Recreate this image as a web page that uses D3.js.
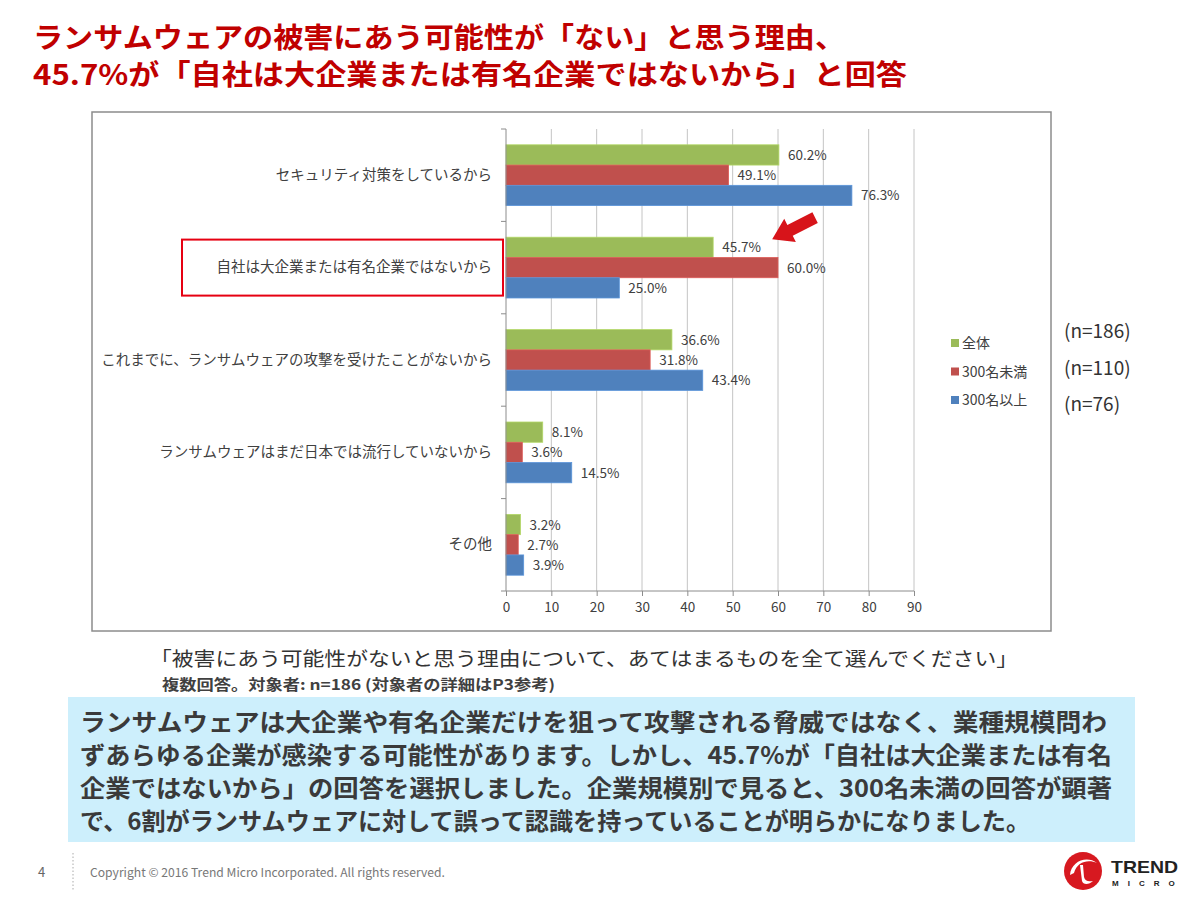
<!DOCTYPE html>
<html><head><meta charset="utf-8">
<script src="https://cdn.jsdelivr.net/npm/d3@7"></script>
<style>
html,body{margin:0;padding:0;background:#fff;}
svg{display:block;font-family:"Noto Sans CJK JP","Noto Sans",sans-serif;}
</style></head>
<body>
<svg id="c" width="1200" height="906"></svg>
<script>
const categories = [
  "セキュリティ対策をしているから",
  "自社は大企業または有名企業ではないから",
  "これまでに、ランサムウェアの攻撃を受けたことがないから",
  "ランサムウェアはまだ日本では流行していないから",
  "その他"
];
const seriesNames = ["全体", "300名未満", "300名以上"];
const seriesN = ["(n=186)", "(n=110)", "(n=76)"];
const seriesColors = ["#9BBB59", "#C0504D", "#4F81BD"];
const valuesAll   = [60.2, 45.7, 36.6, 8.1, 3.2];
const valuesSmall = [49.1, 60.0, 31.8, 3.6, 2.7];
const valuesLarge = [76.3, 25.0, 43.4, 14.5, 3.9];
const xTicks = [0, 10, 20, 30, 40, 50, 60, 70, 80, 90];
const titleLines = [
  "ランサムウェアの被害にあう可能性が「ない」と思う理由、",
  "45.7%が「自社は大企業または有名企業ではないから」と回答"
];
const questionText = "「被害にあう可能性がないと思う理由について、あてはまるものを全て選んでください」";
const noteText = "複数回答。対象者: n=186  (対象者の詳細はP3参考)";
const bodyLines = [
  "ランサムウェアは大企業や有名企業だけを狙って攻撃される脅威ではなく、業種規模問わ",
  "ずあらゆる企業が感染する可能性があります。しかし、45.7%が「自社は大企業または有名",
  "企業ではないから」の回答を選択しました。企業規模別で見ると、300名未満の回答が顕著",
  "で、6割がランサムウェアに対して誤って認識を持っていることが明らかになりました。"
];
const pageNo = "4";
const copyright = "Copyright © 2016 Trend Micro Incorporated. All rights reserved.";

const seriesValues = [valuesAll, valuesSmall, valuesLarge];
const data = categories.map((c, i) => ({cat: c, vals: seriesValues.map((s, j) => ({key: seriesNames[j], v: s[i], color: seriesColors[j]}))}));

const svg = d3.select("#c");
const txt = "#404040";

// Title
const titleLens = [812, 874];
titleLines.forEach((t, i) => {
  svg.append("text").attr("x", 33).attr("y", 48 + i * 37)
    .attr("font-size", 28).attr("font-weight", "bold").attr("fill", "#C00000")
    .attr("textLength", titleLens[i]).attr("lengthAdjust", "spacingAndGlyphs")
    .text(t);
});

// Chart frame
svg.append("rect").attr("x", 92).attr("y", 112).attr("width", 959).attr("height", 519)
  .attr("fill", "#fff").attr("stroke", "#8c8c8c").attr("stroke-width", 1.5);

const x = d3.scaleLinear().domain([0, 90]).range([506, 914]);
const y = d3.scaleBand().domain(categories).range([129, 591]).padding(0);
const yi = d3.scaleBand().domain(seriesNames).range([0, y.bandwidth()]).paddingInner(0).paddingOuter(0.78);

// gridlines
svg.append("g").selectAll("line").data(xTicks.slice(1)).join("line")
  .attr("x1", d => x(d)).attr("x2", d => x(d)).attr("y1", 129).attr("y2", 591)
  .attr("stroke", "#c4c4c4").attr("stroke-width", 1);

// bars
const g = svg.append("g");
const cg = g.selectAll("g").data(data).join("g").attr("transform", d => `translate(0,${y(d.cat)})`);
cg.selectAll("rect").data(d => d.vals).join("rect")
  .attr("x", x(0)).attr("y", d => yi(d.key)).attr("width", d => x(d.v) - x(0)).attr("height", yi.bandwidth())
  .attr("fill", d => d.color).attr("stroke", d => d3.color(d.color).brighter(0.4)).attr("stroke-width", 0.8);
cg.selectAll("text").data(d => d.vals).join("text")
  .attr("x", d => x(d.v) + 9).attr("y", d => yi(d.key) + yi.bandwidth() / 2 + 5)
  .attr("font-size", 13.5).attr("fill", txt).text(d => d.v.toFixed(1) + "%");

// axes
const xAxis = svg.append("g").attr("transform", "translate(0,591)")
  .call(d3.axisBottom(x).tickValues(xTicks).tickSize(5).tickPadding(6).tickFormat(d3.format("d")));
xAxis.select(".domain").attr("stroke", "#8c8c8c").attr("d", `M${x(0)},0H${x(90)}`);
xAxis.selectAll(".tick line").attr("stroke", "#8c8c8c");
xAxis.selectAll("text").attr("font-size", 13.5).attr("fill", txt).attr("font-family", "'Noto Sans CJK JP',sans-serif");

const yAxis = svg.append("g").attr("transform", `translate(${x(0)},0)`)
  .call(d3.axisLeft(y).tickSize(0).tickPadding(14));
yAxis.select(".domain").attr("stroke", "#8c8c8c").attr("d", "M0,129V591");
yAxis.selectAll("text").attr("font-size", 14.5).attr("fill", txt).attr("font-family", "'Noto Sans CJK JP',sans-serif");
// category boundary ticks
svg.append("g").selectAll("line").data(categories).join("line")
  .attr("x1", x(0) - 5).attr("x2", x(0)).attr("y1", d => y(d)).attr("y2", d => y(d))
  .attr("stroke", "#8c8c8c");
svg.append("line").attr("x1", x(0) - 5).attr("x2", x(0)).attr("y1", 591).attr("y2", 591).attr("stroke", "#8c8c8c");

// highlight box around second category label
const hy = y(categories[1]) + y.bandwidth() / 2;
svg.append("rect").attr("x", 182).attr("y", hy - 28).attr("width", 321).attr("height", 56)
  .attr("fill", "none").attr("stroke", "#E60012").attr("stroke-width", 2);

// red arrow pointing at 45.7%
const tipX = x(valuesAll[1]) + 59, tipY = y(categories[1]) + yi(seriesNames[0]) + 2;
const ang = Math.atan2(21, -42) * 180 / Math.PI;
svg.append("path")
  .attr("d", "M0,0 L20,-13 L20,-6 L48,-6 L48,6 L20,6 L20,13 Z")
  .attr("transform", `translate(${tipX},${tipY}) rotate(${ang + 180})`)
  .attr("fill", "#D7141A");

// legend
const lg = svg.append("g");
seriesNames.forEach((s, i) => {
  const ly = 343 + i * 28.5;
  lg.append("rect").attr("x", 951).attr("y", ly - 4).attr("width", 8).attr("height", 8).attr("fill", seriesColors[i]);
  lg.append("text").attr("x", 962).attr("y", ly + 5).attr("font-size", 14).attr("fill", txt).text(s);
  lg.append("text").attr("x", 1064).attr("y", 338 + i * 36.5).attr("font-size", 19).attr("fill", "#333").text(seriesN[i]);
});

// question & note
svg.append("text").attr("x", 150).attr("y", 666).attr("font-size", 19.5).attr("fill", "#333")
  .attr("textLength", 868).attr("lengthAdjust", "spacingAndGlyphs").text(questionText);
svg.append("text").attr("x", 162).attr("y", 690).attr("font-size", 14.5).attr("font-weight", "bold").attr("fill", "#404040")
  .attr("textLength", 393).attr("lengthAdjust", "spacingAndGlyphs").text(noteText);

// blue message box
svg.append("rect").attr("x", 68).attr("y", 697).attr("width", 1067).attr("height", 145).attr("fill", "#CDEFFC");
const bodyLens = [1027, 1032, 1032, 950];
bodyLines.forEach((t, i) => {
  svg.append("text").attr("x", 80).attr("y", 731 + i * 33).attr("font-size", 24).attr("font-weight", "bold")
    .attr("fill", "#3a3a3a").attr("textLength", bodyLens[i]).attr("lengthAdjust", "spacingAndGlyphs").text(t);
});

// footer
svg.append("text").attr("x", 38).attr("y", 877).attr("font-size", 13).attr("fill", "#666").text(pageNo);
svg.append("line").attr("x1", 73).attr("x2", 73).attr("y1", 853).attr("y2", 891)
  .attr("stroke", "#aaa").attr("stroke-dasharray", "1.5,2");
svg.append("text").attr("x", 90).attr("y", 877).attr("font-size", 12).attr("fill", "#777")
  .attr("textLength", 355).attr("lengthAdjust", "spacingAndGlyphs").text(copyright);

// logo
const logo = svg.append("g").attr("transform", "translate(1083,871)");
logo.append("circle").attr("r", 19).attr("fill", "#D71920");
logo.append("path").attr("d", "M-13,4 C-12,-10 4,-16 14,-8 C6,-12 -6,-10 -9,2 Z").attr("fill", "#fff");
logo.append("path").attr("d", "M-3,-6 L-1,10 C0,14 6,14 10,10 C5,11 2,10 1,6 L0,-6 Z").attr("fill", "#fff");
svg.append("text").attr("x", 1111).attr("y", 873).attr("font-size", 17).attr("font-weight", "bold")
  .attr("fill", "#222").attr("textLength", 67).attr("lengthAdjust", "spacingAndGlyphs").attr("font-family", "'Liberation Sans',sans-serif").text("TREND");
svg.append("text").attr("x", 1112).attr("y", 886).attr("font-size", 8).attr("font-weight", "bold")
  .attr("fill", "#222").attr("letter-spacing", 9).attr("font-family", "'Liberation Sans',sans-serif").text("MICRO");
</script>
</body></html>
